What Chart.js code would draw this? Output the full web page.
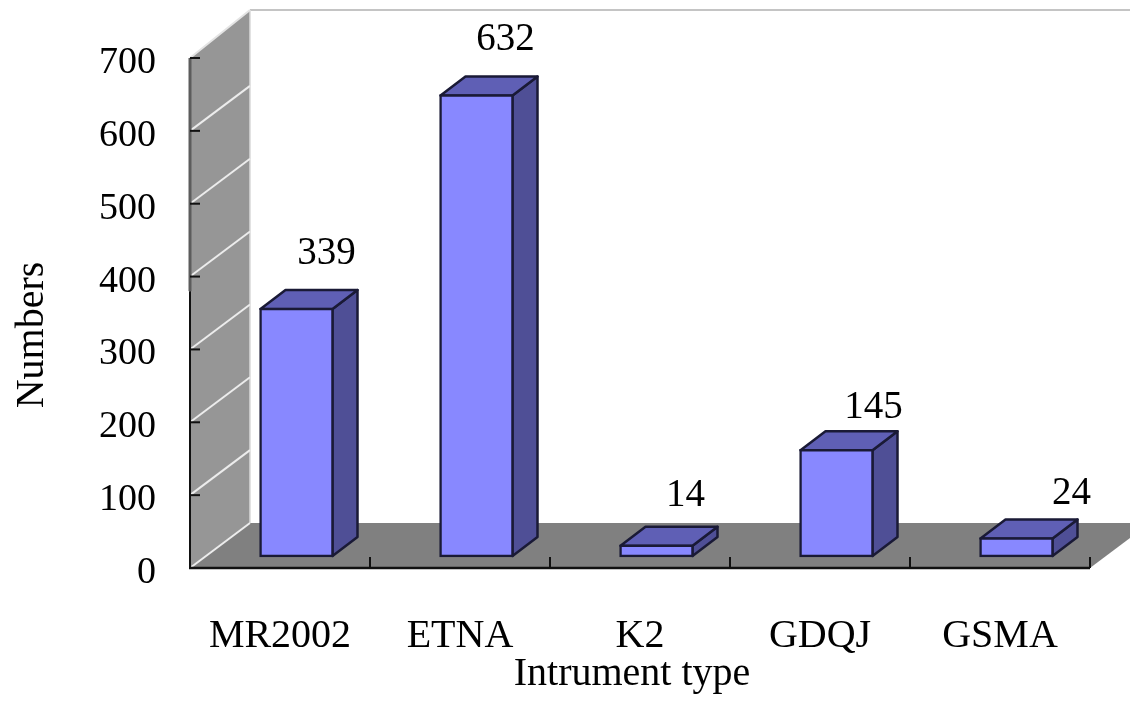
<!DOCTYPE html>
<html>
<head>
<meta charset="utf-8">
<title>Instrument type chart</title>
<script src="https://cdn.jsdelivr.net/npm/chart.js@4"></script>
<style>
  html, body { margin: 0; padding: 0; background: #fff; }
  canvas { display: block; filter: blur(0.7px); }
</style>
</head>
<body>
<canvas id="chart" width="1130" height="721"></canvas>
<script>
const categories = ['MR2002', 'ETNA', 'K2', 'GDQJ', 'GSMA'];
const numbers = [339, 632, 14, 145, 24];
const yTicks = [0, 100, 200, 300, 400, 500, 600, 700];

// label placement was done by hand in the original, so it differs per bar
const labelDx = [30, 29, 29, 37, 55];
const labelDy = [-55, -56, -50, -43, -45];

const FONT = '"Liberation Serif", "Times New Roman", serif';
const WALL_DX = 60, WALL_TOP_DY = 48, WALL_BOTTOM_DY = 45;
const BAR_SHIFT_X = 16.5, BAR_SHIFT_Y = -12;
const BAR_DX = 25, BAR_DY = 19;
const EDGE = '#1a1a36';

function poly(ctx, pts, fill, stroke, lw) {
  ctx.beginPath();
  pts.forEach((p, i) => (i ? ctx.lineTo(p[0], p[1]) : ctx.moveTo(p[0], p[1])));
  ctx.closePath();
  if (fill) { ctx.fillStyle = fill; ctx.fill(); }
  if (stroke) { ctx.strokeStyle = stroke; ctx.lineWidth = lw; ctx.lineJoin = 'round'; ctx.stroke(); }
}

function line(ctx, x1, y1, x2, y2, color, lw) {
  ctx.beginPath();
  ctx.moveTo(x1, y1);
  ctx.lineTo(x2, y2);
  ctx.strokeStyle = color;
  ctx.lineWidth = lw;
  ctx.stroke();
}

const box3d = {
  id: 'box3d',
  beforeDatasetsDraw(chart) {
    const { ctx, chartArea: a, scales } = chart;
    const y = scales.y, x = scales.x;
    const left = a.left, right = a.right, top = a.top, bottom = a.bottom;
    const backX = left + WALL_DX;

    ctx.save();
    // side wall
    poly(ctx, [[left, top], [backX, top - WALL_TOP_DY], [backX, bottom - WALL_BOTTOM_DY], [left, bottom]], '#969696');
    // floor
    poly(ctx, [[left, bottom], [backX, bottom - WALL_BOTTOM_DY], [right + WALL_DX, bottom - WALL_BOTTOM_DY], [right, bottom]], '#808080');
    // back wall outline
    line(ctx, backX, top - WALL_TOP_DY, 1130, top - WALL_TOP_DY, '#c4c4c4', 2);
    line(ctx, backX, top - WALL_TOP_DY, backX, bottom - WALL_BOTTOM_DY, '#d8d8d8', 1.5);
    line(ctx, left, top, backX, top - WALL_TOP_DY, '#e4e4e4', 2);

    // diagonal gridlines on the wall
    yTicks.forEach(t => {
      if (t === 700) return;
      const py = y.getPixelForValue(t);
      line(ctx, left, py, backX, py - WALL_BOTTOM_DY, '#ececec', 2);
    });

    // axis lines and inward ticks
    line(ctx, left, top, left, y.getPixelForValue(380), '#5c5c5c', 3);
    line(ctx, left, y.getPixelForValue(380), left, bottom + 1, '#111', 2);
    line(ctx, left - 1, bottom, right, bottom, '#111', 2.5);
    yTicks.forEach(t => {
      const py = y.getPixelForValue(t);
      line(ctx, left, py, left + 10, py, '#111', 2);
    });
    for (let i = 0; i <= categories.length; i++) {
      const px = x.getPixelForValue(i - 0.5);
      line(ctx, px, bottom, px, bottom - 11, '#111', 2);
    }

    // top and side faces of the bars
    const bars = chart.getDatasetMeta(0).data;
    ctx.translate(BAR_SHIFT_X, BAR_SHIFT_Y);
    bars.forEach(b => {
      const l = b.x - b.width / 2, r = b.x + b.width / 2;
      poly(ctx, [[r, b.y], [r + BAR_DX, b.y - BAR_DY], [r + BAR_DX, b.base - BAR_DY], [r, b.base]], '#4f4f96', EDGE, 2.5);
      poly(ctx, [[l, b.y], [l + BAR_DX, b.y - BAR_DY], [r + BAR_DX, b.y - BAR_DY], [r, b.y]], '#5f5fb5', EDGE, 2.5);
    });
    // the front faces are the chart's own bars, drawn on this shifted canvas
  },
  afterDatasetsDraw(chart) {
    const { ctx } = chart;
    ctx.restore();
    ctx.save();
    ctx.fillStyle = '#000';
    ctx.font = '39px ' + FONT;
    ctx.textAlign = 'center';
    ctx.textBaseline = 'middle';
    chart.getDatasetMeta(0).data.forEach((b, i) => {
      ctx.fillText(String(numbers[i]), b.x + BAR_SHIFT_X + labelDx[i], b.y + BAR_SHIFT_Y + labelDy[i]);
    });

    // axis titles sit off-centre in the original, so they are placed here
    ctx.font = '40px ' + FONT;
    ctx.fillText('Intrument type', 632, 674);
    ctx.translate(32, 335);
    ctx.rotate(-Math.PI / 2);
    ctx.fillText('Numbers', 0, 0);
    ctx.restore();
  }
};

new Chart(document.getElementById('chart'), {
  type: 'bar',
  data: {
    labels: categories,
    datasets: [{
      data: numbers,
      backgroundColor: '#8888ff',
      borderColor: EDGE,
      borderWidth: 2.5,
      borderSkipped: false,
      inflateAmount: 1.25,
      barPercentage: 0.4,
      categoryPercentage: 1,
      clip: false
    }]
  },
  plugins: [box3d],
  options: {
    responsive: false,
    animation: false,
    layout: { padding: { top: 58, right: 40, left: 0, bottom: 0 } },
    plugins: { legend: { display: false }, tooltip: { enabled: false } },
    scales: {
      x: {
        afterFit(s) { s.height = 153; },
        grid: { display: false },
        border: { display: false },
        ticks: { color: '#000', font: { family: FONT, size: 40 }, padding: 36, maxRotation: 0 }
      },
      y: {
        min: 0,
        max: 700,
        afterFit(s) { s.width = 190; },
        afterBuildTicks(s) { s.ticks = yTicks.map(v => ({ value: v })); },
        grid: { display: false },
        border: { display: false },
        ticks: { color: '#000', font: { family: FONT, size: 38 }, padding: 26, labelOffset: 5 }
      }
    }
  }
});
</script>
</body>
</html>
